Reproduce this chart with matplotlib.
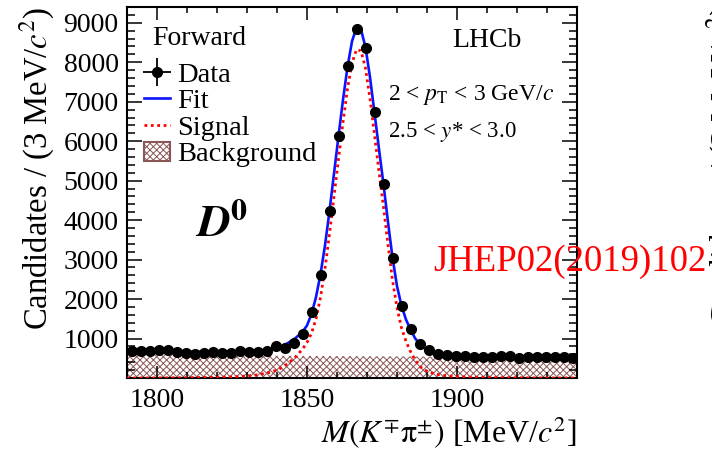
import numpy as np
import matplotlib
matplotlib.use("Agg")
import matplotlib.pyplot as plt
from matplotlib.ticker import MultipleLocator
from matplotlib.patches import Patch

plt.rcParams['font.family'] = ['Liberation Serif', 'DejaVu Serif']
plt.rcParams['mathtext.fontset'] = 'stix'
plt.rcParams['hatch.linewidth'] = 0.7

# data points, 3 MeV bins
mass = np.arange(1791.5, 1940, 3.0)
counts = [689, 689, 680, 714, 697, 663, 638, 613, 646, 655,
          646, 638, 689, 663, 655, 680, 806, 765, 891, 1110,
          1674, 2620, 4230, 6125, 7900, 8850, 8370, 6730, 4910, 3045,
          1825, 1230, 857, 705, 596, 579, 562, 562, 537, 537,
          529, 545, 554, 512, 529, 537, 520, 529, 520, 512]

# curves
curve_x = [1790, 1800, 1810, 1820, 1826, 1830, 1833, 1836, 1838.5, 1841,
           1843.5, 1846, 1848.5, 1850, 1851.5, 1853, 1854.5, 1856, 1857.5, 1859,
           1860.5, 1862, 1863.5, 1865, 1866.5, 1868, 1869.5, 1871, 1872.5, 1874,
           1875.5, 1877, 1878.5, 1880, 1881.5, 1883, 1884.5, 1886, 1887.5, 1889,
           1891, 1893.5, 1896, 1900, 1905, 1915, 1925, 1940]
fit = [685, 680, 665, 660, 665, 670, 680, 700, 730, 790,
       880, 1000, 1170, 1330, 1620, 2050, 2630, 3360, 4230, 5180,
       6130, 7050, 7880, 8530, 8880, 8830, 8380, 7620, 6720, 5800,
       4910, 3950, 3050, 2330, 1830, 1480, 1230, 1010, 860, 760,
       680, 620, 590, 570, 555, 545, 540, 535]
signal = [0, 3, 8, 18, 32, 50, 75, 115, 160, 240,
          360, 520, 730, 900, 1130, 1500, 2040, 2780, 3650, 4600,
          5550, 6480, 7330, 7980, 8320, 8290, 7850, 7080, 6160, 5230,
          4330, 3380, 2480, 1780, 1270, 930, 670, 460, 300, 210,
          140, 90, 60, 35, 20, 8, 3, 0]
bg_x = [1790, 1940]
bg = [585, 520]

fig = plt.figure(figsize=(7.12, 4.53), dpi=100)
ax = fig.add_axes([127/712, 1-378/453, 450/712, 371/453])

hatch_col = '#8c5656'
ax.fill_between(bg_x, 0, bg, facecolor='white', edgecolor=hatch_col,
                hatch='xxxxx', linewidth=0, zorder=1)
sig_line, = ax.plot(curve_x, signal, color='red', lw=2.0, ls=(0, (1, 1.3)), zorder=3)
fit_line, = ax.plot(curve_x, fit, color='#0a14ff', lw=1.9, zorder=2)
err = np.sqrt(counts)
data_h = ax.errorbar(mass, counts, yerr=err, xerr=1.5, fmt='o', color='black',
                     ms=7, elinewidth=1.3, capsize=0, zorder=4)

ax.set_xlim(1790, 1940)
ax.set_ylim(0, 9400)
ax.xaxis.set_major_locator(MultipleLocator(50))
ax.xaxis.set_minor_locator(MultipleLocator(10))
ax.yaxis.set_minor_locator(MultipleLocator(200))
ax.set_yticks([1000, 2000, 3000, 4000, 5000, 6000, 7000, 8000, 9000])
ax.tick_params(which='both', direction='in', top=True, right=True, labelsize=20, width=1.1)
ax.tick_params(axis='x', which='major', length=9, pad=7)
ax.tick_params(axis='x', which='minor', length=4.5)
ax.tick_params(axis='y', which='major', length=11, pad=6)
ax.tick_params(axis='y', which='minor', length=5.5)
for s in ax.spines.values():
    s.set_linewidth(1.5)

ax.set_ylabel('Candidates / (3 MeV/$c^2$)', fontsize=23.5, ha='right')
ax.yaxis.set_label_coords(-0.155, 1.0)
ax.set_xlabel(r'$M(K^{\mp}\mathrm{\pi}^{\pm})$ [MeV/$c^2$]', fontsize=23, ha='right')
ax.xaxis.set_label_coords(1.0, -0.1)

tr = ax.transAxes
ax.text((152-127)/450, (378-38)/371, 'Forward', fontsize=20, va='center', transform=tr)
ax.text((452-127)/450, (378-40)/371, 'LHCb', fontsize=20, va='center', transform=tr)
ax.text((388-127)/450, (378-95)/371, r'2 < $p_{\mathrm{T}}$ < 3 GeV/$c$', fontsize=17,
        va='center', transform=tr)
ax.text((388-127)/450, (378-132)/371, r'2.5 < $y$* < 3.0', fontsize=16.5,
        va='center', transform=tr)
ax.text((195-127)/450, (378-226)/371, r'$\mathbfit{D}^{\mathbf{0}}$', fontsize=33,
        va='center', transform=tr)

bg_patch = Patch(facecolor='white', edgecolor=hatch_col, hatch='xxxxx', linewidth=1.5)
ax.legend([data_h, fit_line, sig_line, bg_patch],
          ['Data', 'Fit', 'Signal', 'Background'],
          loc='upper left', bbox_to_anchor=((144-127)/450, (378-62)/371),
          fontsize=20.5, frameon=False, labelspacing=0.02, handlelength=0.9,
          handletextpad=0.25, borderpad=0, borderaxespad=0)

fig.text(433/712, 1-262/453, 'JHEP02(2019)102', color='red', fontsize=26.5,
         va='center', ha='left', zorder=10)
# edge of the neighbouring panel's axis label
fig.text(705/712, 1-4/453, 'Candidates / (3 MeV/$c^2$)', fontsize=23.5, rotation=90,
         ha='left', va='top')

fig.savefig('out.png', dpi=100)
